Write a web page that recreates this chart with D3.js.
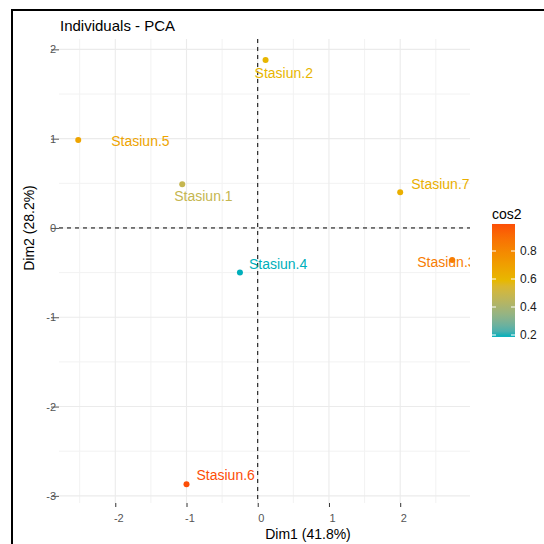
<!DOCTYPE html>
<html><head><meta charset="utf-8">
<script src="https://cdn.jsdelivr.net/npm/d3@7"></script>
<style>body{margin:0;background:#fff}svg{display:block;font-family:"Liberation Sans",Arial,Helvetica,sans-serif}</style>
</head><body><svg id="c" width="544" height="544"></svg>
<script>
// ---- data ----
const names = ["Stasiun.1","Stasiun.2","Stasiun.3","Stasiun.4","Stasiun.5","Stasiun.6","Stasiun.7"];
const dim1  = [-1.06, 0.11, 2.73, -0.25, -2.52, -1.00, 2.00];
const dim2  = [0.49, 1.88, -0.36, -0.50, 0.985, -2.87, 0.40];
const cos2  = [0.48, 0.60, 0.84, 0.186, 0.68, 0.993, 0.63];
const xTicks = [-2, -1, 0, 1, 2];
const yTicks = [-3, -2, -1, 0, 1, 2];
const legendTicks = [0.2, 0.4, 0.6, 0.8];
const gradientCols = ["#00AFBB", "#E7B800", "#FC4E07"];

// ---- layout (label placement, repel-like offsets in px) ----
const labelOffsets = {
  "Stasiun.1": [-8, 17], "Stasiun.2": [-11, 18], "Stasiun.3": [-35, 7],
  "Stasiun.4": [9, -4], "Stasiun.5": [33, 6.5], "Stasiun.6": [10, -4], "Stasiun.7": [11, -3.5]
};

const svg = d3.select("#c");
const L = 59, R = 470, T = 39, B = 503;
const x = d3.scaleLinear().domain([-2.79, 2.98]).range([L, R]);
const y = d3.scaleLinear().domain([-3.08, 2.116]).range([B, T]);

const cmin = d3.min(cos2), cmax = d3.max(cos2);
const color = d3.scaleLinear().domain([cmin, (cmin + cmax) / 2, cmax]).range(gradientCols).interpolate(d3.interpolateLab);

// outer frame
svg.append("rect").attr("x", 12).attr("y", 10).attr("width", 700).attr("height", 700)
  .attr("fill", "none").attr("stroke", "#000").attr("stroke-width", 2);

// title
svg.append("text").attr("x", 60).attr("y", 31).attr("font-size", 15).attr("fill", "#000").text("Individuals - PCA");

// grid
const g = svg.append("g");
const minorX = d3.range(-2.5, 3, 1), minorY = d3.range(-2.5, 2.1, 1);
g.selectAll(".mx").data(minorX).join("line").attr("x1", d => x(d)).attr("x2", d => x(d)).attr("y1", T).attr("y2", B)
  .attr("stroke", "#f2f2f2").attr("stroke-width", 1);
g.selectAll(".my").data(minorY).join("line").attr("y1", d => y(d)).attr("y2", d => y(d)).attr("x1", L).attr("x2", R)
  .attr("stroke", "#f2f2f2").attr("stroke-width", 1);
g.selectAll(".Mx").data(xTicks).join("line").attr("x1", d => x(d)).attr("x2", d => x(d)).attr("y1", T).attr("y2", B)
  .attr("stroke", "#ebebeb").attr("stroke-width", 1.1);
g.selectAll(".My").data(yTicks).join("line").attr("y1", d => y(d)).attr("y2", d => y(d)).attr("x1", L).attr("x2", R)
  .attr("stroke", "#ebebeb").attr("stroke-width", 1.1);

// dashed zero lines
svg.append("line").attr("x1", x(0)).attr("x2", x(0)).attr("y1", T).attr("y2", B)
  .attr("stroke", "#000").attr("stroke-dasharray", "4,4").attr("stroke-width", 1);
svg.append("line").attr("y1", y(0)).attr("y2", y(0)).attr("x1", L).attr("x2", R)
  .attr("stroke", "#000").attr("stroke-dasharray", "4,4").attr("stroke-width", 1);

// axes
const xa = svg.append("g").attr("transform", `translate(0,${B})`)
  .call(d3.axisBottom(x).tickValues(xTicks).tickSize(4).tickPadding(7));
xa.select(".domain").remove();
xa.selectAll(".tick line").attr("stroke", "#333");
xa.selectAll(".tick text").attr("fill", "#555").attr("font-size", 11).attr("dx", 3)
  .attr("font-family", "Liberation Sans, Arial, sans-serif").text(d => d < 0 ? "-" + Math.abs(d) : d);

const ya = svg.append("g").attr("transform", `translate(${L},0)`)
  .call(d3.axisLeft(y).tickValues(yTicks).tickSize(8).tickPadding(-5));
ya.select(".domain").remove();
ya.selectAll(".tick line").attr("stroke", "#555");
ya.selectAll(".tick text").attr("fill", "#555").attr("font-size", 11)
  .attr("font-family", "Liberation Sans, Arial, sans-serif").text(d => d < 0 ? "-" + Math.abs(d) : d);

// axis titles
svg.append("text").attr("x", 308).attr("y", 539).attr("text-anchor", "middle").attr("font-size", 14).attr("fill", "#000").text("Dim1 (41.8%)");
svg.append("text").attr("transform", "translate(34,228) rotate(-90)").attr("text-anchor", "middle").attr("font-size", 14).attr("fill", "#000").text("Dim2 (28.2%)");

// points and labels (clipped to panel)
svg.append("clipPath").attr("id", "pc").append("rect").attr("x", L).attr("y", T).attr("width", R - L).attr("height", B - T);
const data = names.map((n, i) => ({ n, x: dim1[i], y: dim2[i], c: cos2[i] }));
const pg = svg.append("g").attr("clip-path", "url(#pc)");
pg.selectAll("text").data(data).join("text")
  .attr("x", d => x(d.x) + labelOffsets[d.n][0]).attr("y", d => y(d.y) + labelOffsets[d.n][1])
  .attr("font-size", 14).attr("fill", d => color(d.c)).text(d => d.n);
pg.selectAll("circle").data(data).join("circle")
  .attr("cx", d => x(d.x)).attr("cy", d => y(d.y)).attr("r", 3).attr("fill", d => color(d.c));

// legend colorbar
const ly = d3.scaleLinear().domain([0.2, 0.8]).range([335, 251]);
const lx0 = 492, lw = 23;
const defs = svg.append("defs");
const grad = defs.append("linearGradient").attr("id", "lg").attr("x1", 0).attr("x2", 0).attr("y1", 1).attr("y2", 0);
d3.range(0, 1.0001, 0.05).forEach(t => {
  grad.append("stop").attr("offset", t).attr("stop-color", color(cmin + t * (cmax - cmin)));
});
svg.append("rect").attr("x", lx0).attr("y", ly(cmax)).attr("width", lw).attr("height", ly(cmin) - ly(cmax)).attr("fill", "url(#lg)");
const lt = svg.append("g");
legendTicks.forEach(v => {
  lt.append("line").attr("x1", lx0).attr("x2", lx0 + 4).attr("y1", ly(v)).attr("y2", ly(v)).attr("stroke", "#fff").attr("stroke-width", 1);
  lt.append("line").attr("x1", lx0 + lw - 4).attr("x2", lx0 + lw).attr("y1", ly(v)).attr("y2", ly(v)).attr("stroke", "#fff").attr("stroke-width", 1);
  lt.append("text").attr("x", 520).attr("y", ly(v)).attr("dy", "0.35em").attr("font-size", 12).attr("fill", "#1a1a1a").text(v.toFixed(1));
});
svg.append("text").attr("x", 492).attr("y", 219).attr("font-size", 14).attr("fill", "#000").text("cos2");
</script></body></html>
